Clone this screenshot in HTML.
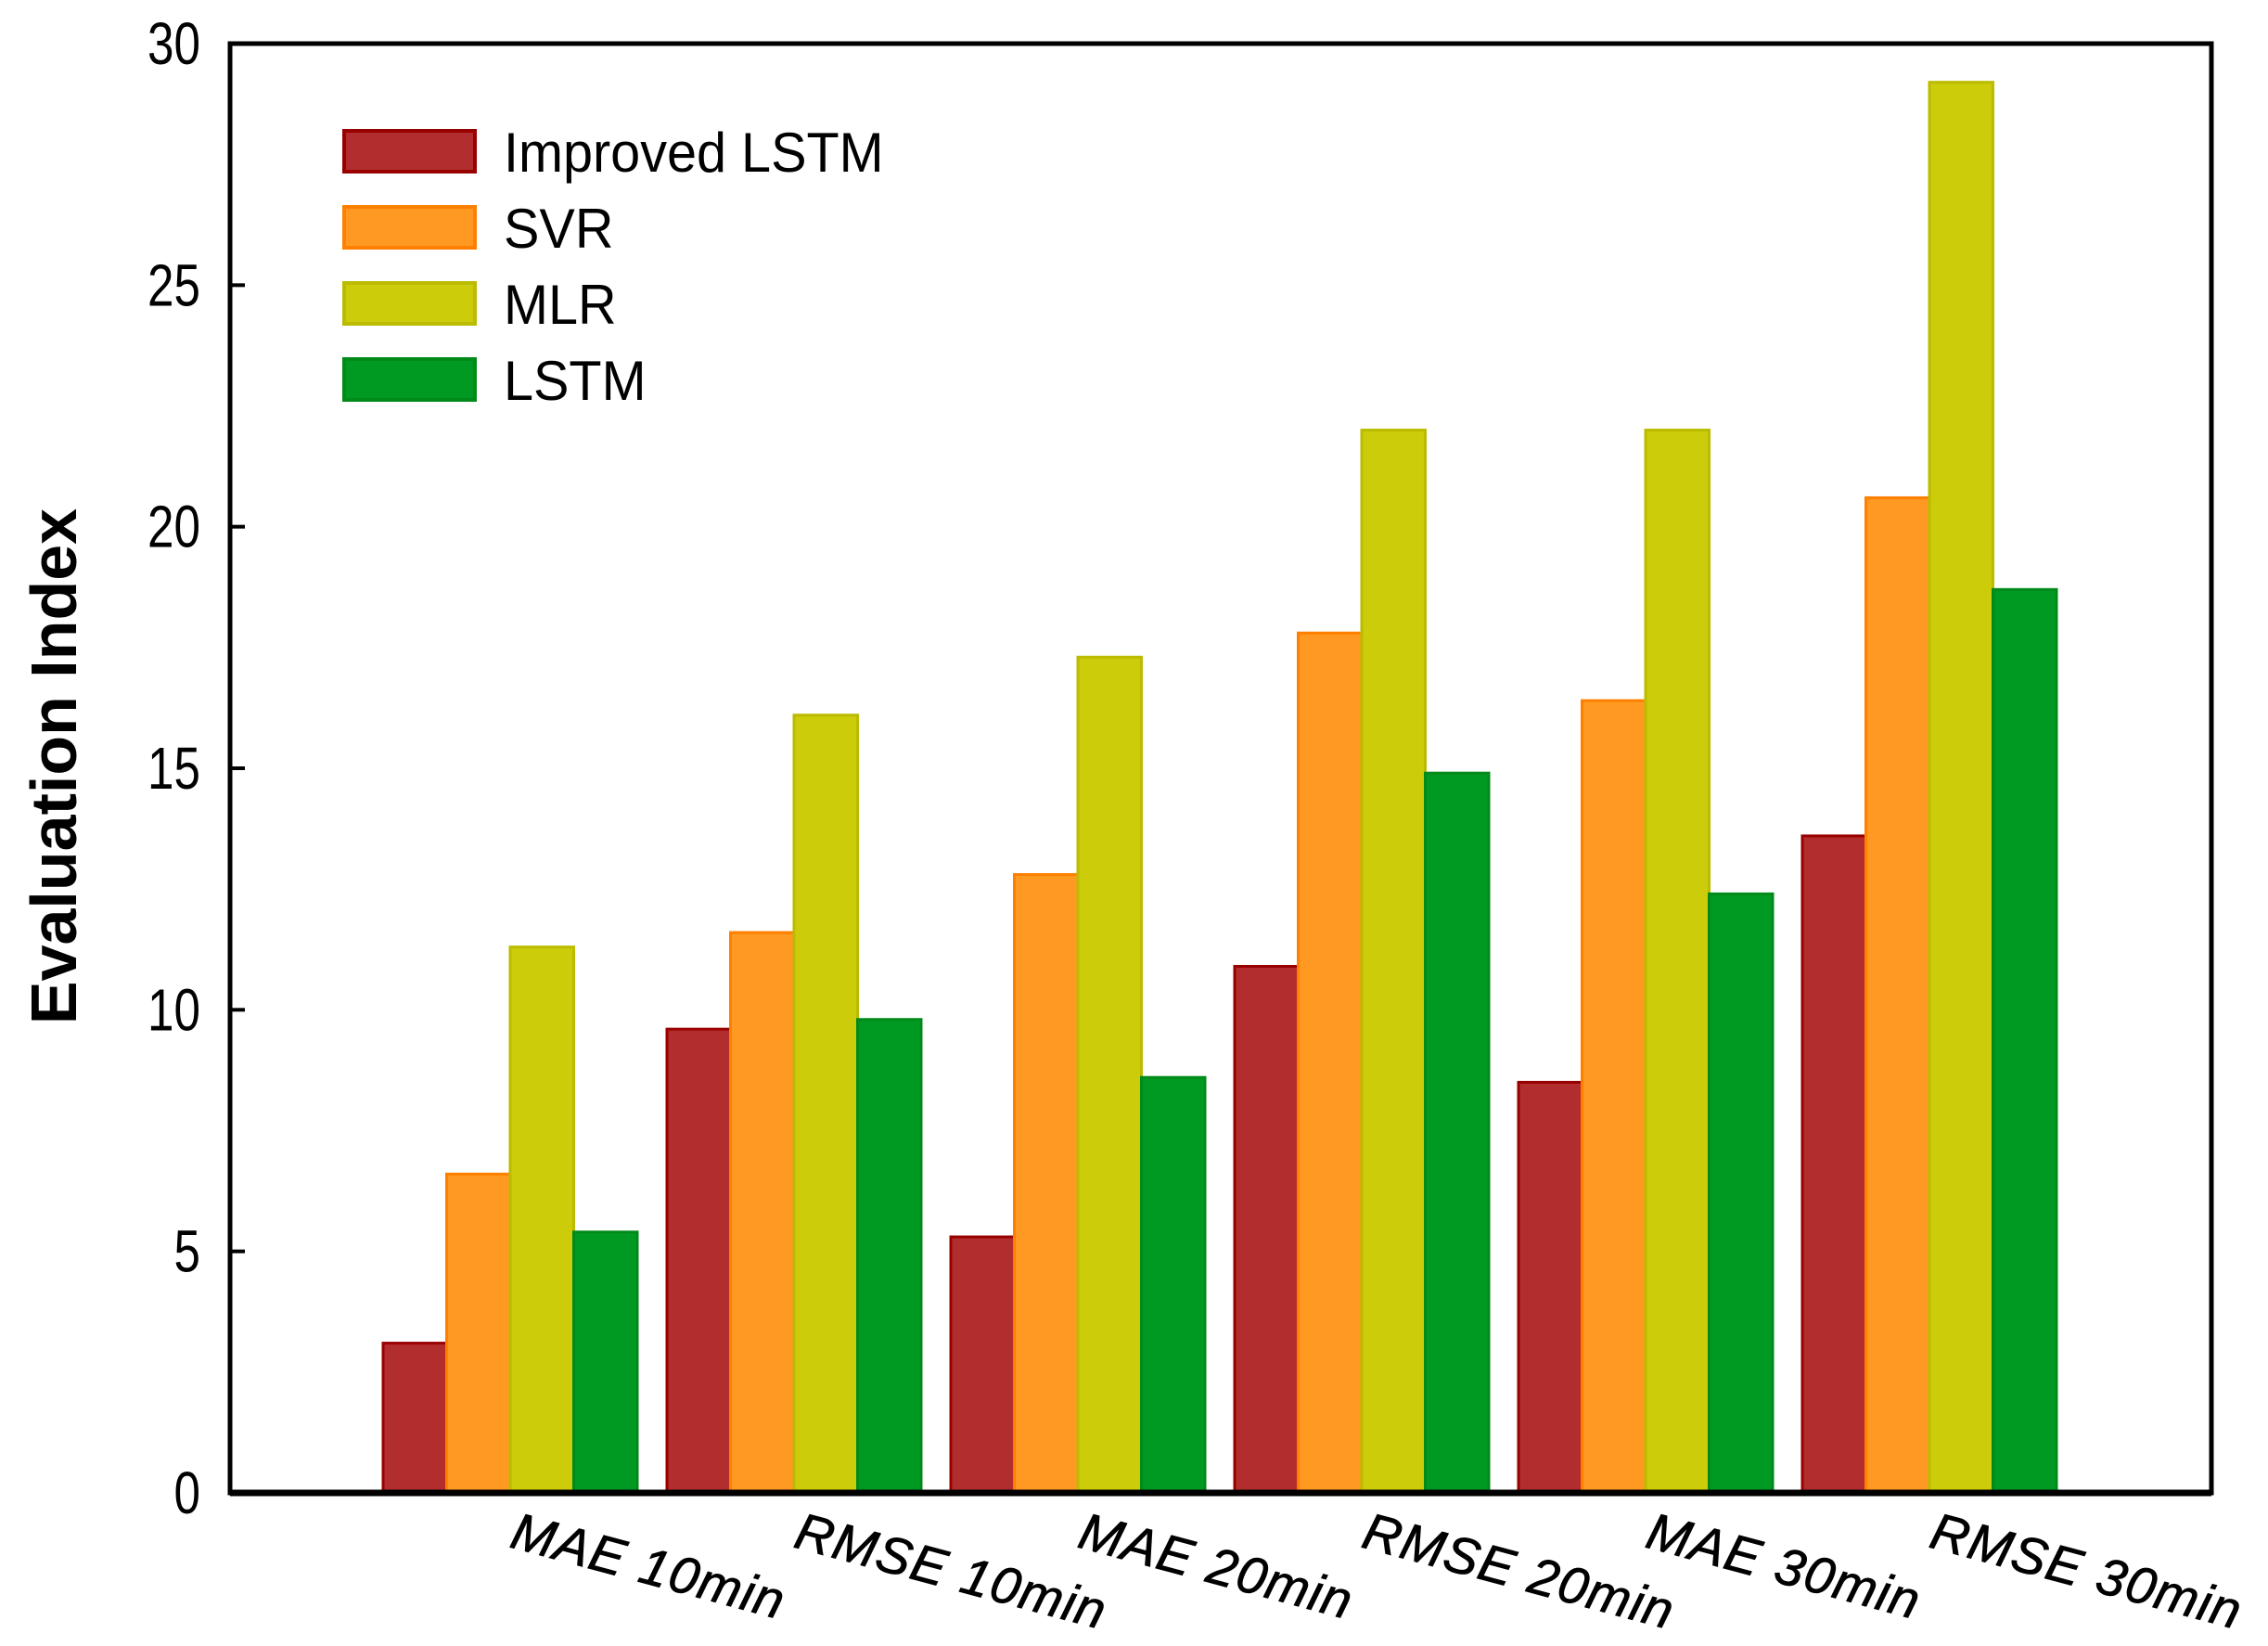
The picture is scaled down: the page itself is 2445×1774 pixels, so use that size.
<!DOCTYPE html>
<html><head><meta charset="utf-8"><style>
body{margin:0;background:#fff}
svg{display:block}
text{font-family:"Liberation Sans",sans-serif;fill:#000}
</style></head><body>
<svg id="chart" width="2445" height="1774" viewBox="0 0 2445 1774">
<rect x="248" y="47" width="2136" height="1562" fill="#fff" stroke="#000" stroke-width="5"/>
<g id="bars"></g><g id="yticks"></g><g id="xlabels"></g>
<text transform="translate(82,826) rotate(-90)" text-anchor="middle" font-size="70" font-weight="bold">Evaluation Index</text>
<g id="legend"></g>
</svg>
<script>
const categories=["MAE 10min","RMSE 10min","MAE 20min","RMSE 20min","MAE 30min","RMSE 30min"];
const seriesNames=["Improved LSTM","SVR","MLR","LSTM"];
const improvedLSTM=[3.1,9.6,5.3,10.9,8.5,13.6];
const svr=[6.6,11.6,12.8,17.8,16.4,20.6];
const mlr=[11.3,16.1,17.3,22.0,22.0,29.2];
const lstm=[5.4,9.8,8.6,14.9,12.4,18.7];
const yTicks=[0,5,10,15,20,25,30];
const series=[improvedLSTM,svr,mlr,lstm];
const fills=["#b22e2e","#ff9922","#cccc0a","#009922"];
const strokes=["#990000","#ff8000","#bbbb00","#008a1a"];
const NS="http://www.w3.org/2000/svg";
const y0=1609,yTop=47,yMax=30;
const y=v=>y0-(v/yMax)*(y0-yTop);
const groupStart=413,groupStep=306,barW=68.5;
const xb=(g,s)=>groupStart+g*groupStep+s*barW;
function mk(t,a,p){const e=document.createElementNS(NS,t);for(const k in a)e.setAttribute(k,a[k]);p.appendChild(e);return e;}
const bars=document.getElementById('bars');
series.forEach((arr,s)=>arr.forEach((v,g)=>{
 const r=mk('rect',{x:xb(g,s),y:y(v),width:barW,height:y0-y(v),fill:fills[s],stroke:strokes[s],'stroke-width':3},bars);
 
 
}));
mk('line',{x1:248,y1:y0,x2:2384,y2:y0,stroke:'#000','stroke-width':7},bars);
const yt=document.getElementById('yticks');
yTicks.forEach(t=>{
 mk('line',{x1:248,y1:y(t),x2:264,y2:y(t),stroke:'#000','stroke-width':4},yt);
 const tx=mk('text',{x:0,y:0,'font-size':64,'text-anchor':'end',transform:`translate(216,${y(t)+22}) scale(0.8,1)`},yt);
 tx.textContent=t;
 
 
});
const xl=document.getElementById('xlabels');
categories.forEach((c,g)=>{
 const cx=xb(g,2)-2;
 const tx=mk('text',{x:0,y:0,'font-size':56,'font-style':'italic','letter-spacing':1.5,stroke:'#000','stroke-width':0.8,transform:`translate(${cx},${y0+58}) rotate(15)`},xl);
 tx.textContent=c;
 
 
});
const lg=document.getElementById('legend');
seriesNames.forEach((n,i)=>{
 const cy=163+i*82;
 const r=mk('rect',{x:371,y:cy-22,width:141,height:44,fill:fills[i],stroke:strokes[i],'stroke-width':4},lg);
 
 
 const tx=mk('text',{x:0,y:0,'font-size':60,transform:`translate(543,${cy+22}) scale(0.96,1)`},lg);
 tx.textContent=n;
 
 
});
</script>
</body></html>
